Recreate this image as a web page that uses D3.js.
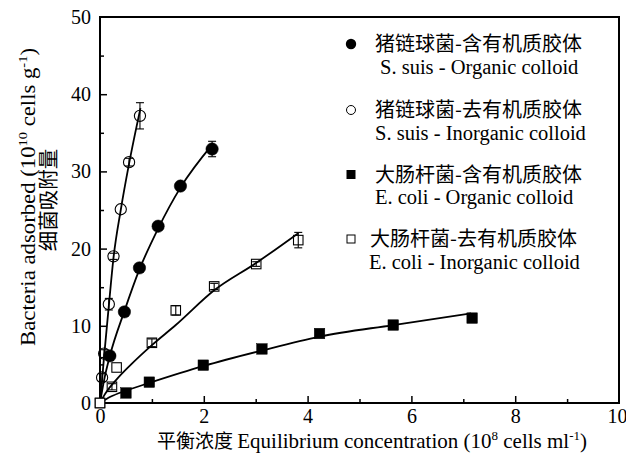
<!DOCTYPE html>
<html><head><meta charset="utf-8">
<script src="https://cdn.jsdelivr.net/npm/d3@7"></script>
<style>body{margin:0;background:#fff}svg{display:block}</style>
</head><body>
<svg id="chart" width="626" height="453"></svg>
<script>
// ---------- data ----------
const xTickVals = [0, 2, 4, 6, 8, 10];
const yTickVals = [0, 10, 20, 30, 40, 50];
const xMinorVals = [1, 3, 5, 7, 9];
const yMinorVals = [5, 15, 25, 35, 45];

// S. suis - Organic colloid (filled circles)
const ssOrgX   = [0.19, 0.47, 0.76, 1.12, 1.55, 2.16];
const ssOrgY   = [6.1, 11.8, 17.5, 22.9, 28.1, 32.9];
const ssOrgErr = [0, 0, 0, 0, 0, 1.0];
const ssOrgFitX = [0, 0.08, 0.19, 0.47, 0.76, 1.12, 1.55, 2.18];
const ssOrgFitY = [0, 3.0, 6.1, 11.9, 17.3, 22.6, 27.9, 33.6];

// S. suis - Inorganic colloid (open circles)
const ssInoX   = [0.04, 0.08, 0.17, 0.26, 0.40, 0.56, 0.77];
const ssInoY   = [3.3, 6.4, 12.8, 19.0, 25.1, 31.2, 37.2];
const ssInoErr = [0.5, 0.5, 0.75, 0.4, 0, 0.5, 1.7];
const ssInoFitX = [0, 0.04, 0.08, 0.17, 0.26, 0.40, 0.56, 0.78];
const ssInoFitY = [0, 3.0, 6.1, 12.6, 18.8, 25.0, 31.0, 38.2];

// E. coli - Organic colloid (filled squares)
const ecOrgX   = [0.50, 0.95, 1.99, 3.12, 4.23, 5.65, 7.17];
const ecOrgY   = [1.3, 2.7, 4.9, 7.0, 9.0, 10.1, 11.0];
const ecOrgFitX = [0, 0.2, 0.5, 0.95, 2.0, 3.12, 4.23, 5.65, 7.15];
const ecOrgFitY = [0, 0.8, 1.6, 2.6, 4.8, 6.8, 8.6, 10.1, 11.6];

// E. coli - Inorganic colloid (open squares)
const ecInoX   = [0, 0.23, 0.32, 1.00, 1.46, 2.20, 3.01, 3.82];
const ecInoY   = [0, 2.1, 4.6, 7.8, 12.0, 15.1, 18.0, 21.1];
const ecInoErr = [0, 0.4, 0, 0.5, 0.6, 0.4, 0.3, 1.0];
const ecInoFitX = [0, 0.1, 0.3, 0.6, 1.0, 1.46, 2.2, 3.0, 3.82];
const ecInoFitY = [0, 1.2, 2.9, 5.0, 7.5, 10.1, 14.6, 18.1, 22.0];

const legendCN = ["猪链球菌-含有机质胶体", "猪链球菌-去有机质胶体", "大肠杆菌-含有机质胶体", "大肠杆菌-去有机质胶体"];
const legendEN = ["S. suis - Organic colloid", "S. suis - Inorganic colloid", "E. coli - Organic colloid", "E. coli - Inorganic colloid"];

// ---------- layout ----------
const L = 100, R = 619, T = 17, B = 403;
const serif = "'Liberation Serif','Times New Roman',serif";
const cjk = "'Noto Sans CJK SC','Noto Sans CJK JP',sans-serif";
const svg = d3.select("#chart");
const x = d3.scaleLinear().domain([0, 10]).range([L, R]);
const y = d3.scaleLinear().domain([0, 50]).range([B, T]);

// axes with inward ticks
const xAxis = svg.append("g").attr("transform", `translate(0,${B})`)
  .call(d3.axisBottom(x).tickValues(xTickVals).tickSize(-7).tickPadding(10).tickFormat(d3.format("d")));
const xMinor = svg.append("g").attr("transform", `translate(0,${B})`)
  .call(d3.axisBottom(x).tickValues(xMinorVals).tickSize(-4).tickFormat(""));
const yAxis = svg.append("g").attr("transform", `translate(${L},0)`)
  .call(d3.axisLeft(y).tickValues(yTickVals).tickSize(-7).tickPadding(10).tickFormat(d3.format("d")));
const yMinor = svg.append("g").attr("transform", `translate(${L},0)`)
  .call(d3.axisLeft(y).tickValues(yMinorVals).tickSize(-4).tickFormat(""));
[xAxis, xMinor, yAxis, yMinor].forEach(g => {
  g.select(".domain").remove();
  g.selectAll(".tick line").attr("stroke", "#000").attr("stroke-width", 1.5);
  g.selectAll("text").attr("font-family", serif).attr("font-size", 20).attr("fill", "#000");
});
xAxis.selectAll(".tick").filter(d => d === 0 || d === 10).select("line").remove();
yAxis.selectAll(".tick").filter(d => d === 0 || d === 50).select("line").remove();
xAxis.selectAll("text").attr("dy", "0.71em").attr("y", 6);
xAxis.selectAll(".tick").filter(d => d === 10).select("text").attr("dx", -2);
yAxis.selectAll("text").attr("x", -9);

// frame
svg.append("rect").attr("x", L).attr("y", T).attr("width", R - L).attr("height", B - T)
  .attr("fill", "none").attr("stroke", "#000").attr("stroke-width", 2);

// fit lines
const line = d3.line().x(d => x(d[0])).y(d => y(d[1])).curve(d3.curveMonotoneX);
const fits = [[ssOrgFitX, ssOrgFitY], [ssInoFitX, ssInoFitY], [ecOrgFitX, ecOrgFitY], [ecInoFitX, ecInoFitY]];
fits.forEach(([fx, fy]) => {
  svg.append("path").datum(fx.map((v, i) => [v, fy[i]]))
    .attr("d", line).attr("fill", "none").attr("stroke", "#000").attr("stroke-width", 1.8);
});

// error bars
function errBars(xs, ys, es) {
  const g = svg.append("g").attr("stroke", "#000").attr("stroke-width", 1.1);
  xs.forEach((xv, i) => {
    const e = es[i]; if (!e) return;
    const cx = x(xv), y1 = y(ys[i] + e), y2 = y(ys[i] - e);
    g.append("line").attr("x1", cx).attr("x2", cx).attr("y1", y1).attr("y2", y2);
    g.append("line").attr("x1", cx - 4).attr("x2", cx + 4).attr("y1", y1).attr("y2", y1);
    g.append("line").attr("x1", cx - 4).attr("x2", cx + 4).attr("y1", y2).attr("y2", y2);
  });
}
errBars(ssOrgX, ssOrgY, ssOrgErr);
errBars(ssInoX, ssInoY, ssInoErr);
errBars(ecInoX, ecInoY, ecInoErr);

// markers
function circles(xs, ys, filled, r) {
  svg.append("g").selectAll("circle").data(xs.map((v, i) => [v, ys[i]])).join("circle")
    .attr("cx", d => x(d[0])).attr("cy", d => y(d[1])).attr("r", r)
    .attr("fill", filled ? "#000" : "none").attr("stroke", "#000").attr("stroke-width", filled ? 0.5 : 1.1);
}
function squares(xs, ys, filled, s) {
  svg.append("g").selectAll("rect").data(xs.map((v, i) => [v, ys[i]])).join("rect")
    .attr("x", d => x(d[0]) - s / 2).attr("y", d => y(d[1]) - s / 2).attr("width", s).attr("height", s)
    .attr("fill", filled ? "#000" : "none").attr("stroke", "#000").attr("stroke-width", filled ? 0.5 : 1.1);
}
squares(ecOrgX, ecOrgY, true, 10.5);
squares(ecInoX, ecInoY, false, 9.5);
circles(ssOrgX, ssOrgY, true, 6.2);
circles(ssInoX, ssInoY, false, 5.6);
// origin square drawn with white fill
svg.append("rect").attr("x", x(ecInoX[0]) - 4.75).attr("y", y(ecInoY[0]) - 4.75).attr("width", 9.5).attr("height", 9.5)
  .attr("fill", "#fff").attr("stroke", "#000").attr("stroke-width", 1.1);

// legend
const legY = [44, 110, 174.5, 239];
const legMarkX = 351;
const leg = svg.append("g");
legY.forEach((ly, i) => {
  if (i === 0) leg.append("circle").attr("cx", legMarkX).attr("cy", ly).attr("r", 5.2).attr("fill", "#000");
  if (i === 1) leg.append("circle").attr("cx", legMarkX).attr("cy", ly).attr("r", 4.5).attr("fill", "none").attr("stroke", "#000").attr("stroke-width", 1);
  if (i === 2) leg.append("rect").attr("x", legMarkX - 4.5).attr("y", ly - 4.5).attr("width", 9).attr("height", 9).attr("fill", "#000");
  if (i === 3) leg.append("rect").attr("x", legMarkX - 4).attr("y", ly - 4).attr("width", 8).attr("height", 8).attr("fill", "none").attr("stroke", "#000").attr("stroke-width", 1);
  const cnX = i === 3 ? 370 : 375;
  const enX = i === 0 ? 380 : (i === 3 ? 369 : 375);
  leg.append("text").attr("x", cnX).attr("y", ly).attr("dy", "0.36em")
    .attr("font-family", cjk).attr("font-size", 20).attr("fill", "#000").text(legendCN[i]);
  leg.append("text").attr("x", enX).attr("y", ly + 23).attr("dy", "0.33em")
    .attr("font-family", serif).attr("font-size", 20.5).attr("fill", "#000").text(legendEN[i]);
});

// x axis title
const xt = svg.append("text").attr("x", 372).attr("y", 448).attr("text-anchor", "middle")
  .attr("font-family", serif).attr("font-size", 21).attr("fill", "#000");
xt.append("tspan").attr("font-family", cjk).attr("font-size", 19).text("平衡浓度 ");
xt.append("tspan").text("Equilibrium concentration (10");
xt.append("tspan").attr("font-size", 13).attr("dy", -8).text("8");
xt.append("tspan").attr("dy", 8).text(" cells ml");
xt.append("tspan").attr("font-size", 13).attr("dy", -8).text("-1");
xt.append("tspan").attr("dy", 8).text(")");

// y axis title (two rotated lines)
const yt1 = svg.append("text").attr("transform", "translate(35,197) rotate(-90) scale(1.11,1)").attr("text-anchor", "middle")
  .attr("font-family", serif).attr("font-size", 20.5).attr("fill", "#000");
yt1.append("tspan").text("Bacteria adsorbed (10");
yt1.append("tspan").attr("font-size", 13).attr("dy", -8).text("10");
yt1.append("tspan").attr("dy", 8).text(" cells g");
yt1.append("tspan").attr("font-size", 13).attr("dy", -8).text("-1");
yt1.append("tspan").attr("dy", 8).text(")");
svg.append("text").attr("transform", "translate(56,200) rotate(-90)").attr("text-anchor", "middle")
  .attr("font-family", cjk).attr("font-size", 20.5).attr("fill", "#000").text("细菌吸附量");
</script>
</body></html>
